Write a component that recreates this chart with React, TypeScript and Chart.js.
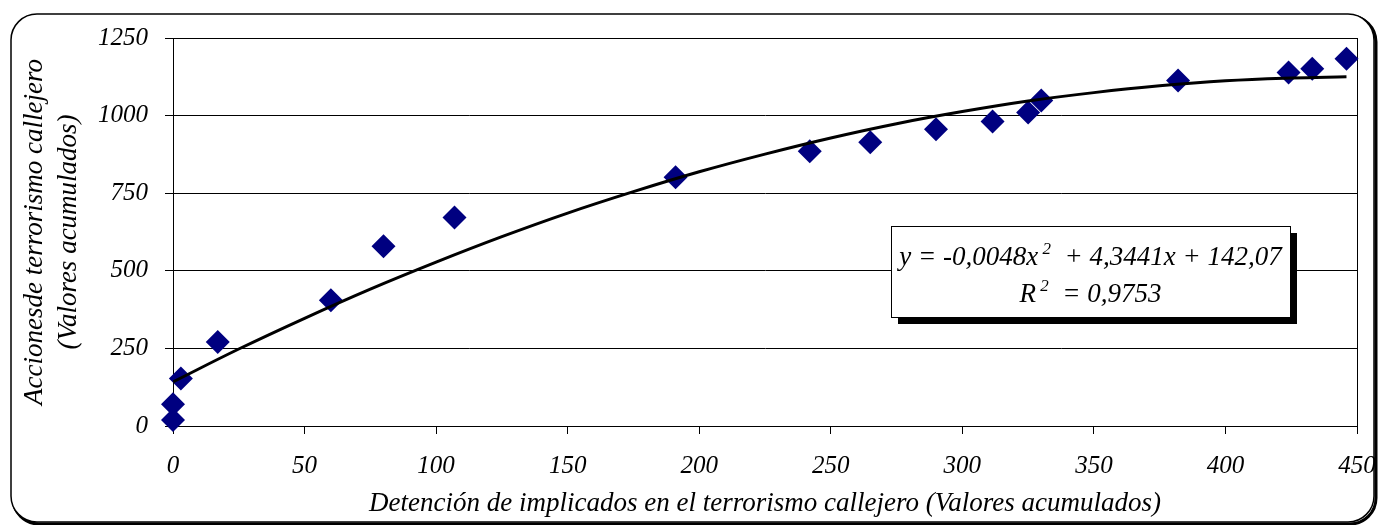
import React, { useEffect, useRef } from "react";
import { Chart, registerables } from "chart.js";

Chart.register(...registerables);

// Data
const detenciones = [0, 0, 3, 17, 60, 80, 107, 191, 242, 265, 290, 311.5, 325, 330, 382, 424, 433, 446];
const acciones = [19, 70, 153, 271, 405, 579, 672, 801, 885, 914, 956, 981, 1010, 1049, 1113, 1139, 1151, 1183];

// Polynomial trendline as drawn in the reference
const trendX = [0, 25, 50, 75, 100, 125, 150, 175, 200, 225, 250, 275, 300, 325, 350, 375, 400, 425, 446];
const trendY = [142, 248, 347, 441, 528, 610, 686, 755, 819, 876, 928, 974, 1013, 1047, 1074, 1096, 1112, 1121, 1125];

const xTicks = [0, 50, 100, 150, 200, 250, 300, 350, 400, 450];
const yTicks = [0, 250, 500, 750, 1000, 1250];

const xTitle = "Detención de implicados en el terrorismo callejero (Valores acumulados)";
const yTitleLines = ["Accionesde terrorismo callejero", "(Valores acumulados)"];

const eqLine1 = [
  { t: "y = -0,0048x", sup: false },
  { t: " 2", sup: true },
  { t: "  + 4,3441x + 142,07", sup: false },
];
const eqLine2 = [
  { t: "R", sup: false },
  { t: " 2", sup: true },
  { t: "  = 0,9753", sup: false },
];

const FONT = "'Liberation Serif', 'Times New Roman', serif";

function roundRect(ctx: CanvasRenderingContext2D, x: number, y: number, w: number, h: number, r: number) {
  ctx.beginPath();
  ctx.moveTo(x + r, y);
  ctx.lineTo(x + w - r, y);
  ctx.arcTo(x + w, y, x + w, y + r, r);
  ctx.lineTo(x + w, y + h - r);
  ctx.arcTo(x + w, y + h, x + w - r, y + h, r);
  ctx.lineTo(x + r, y + h);
  ctx.arcTo(x, y + h, x, y + h - r, r);
  ctx.lineTo(x, y + r);
  ctx.arcTo(x, y, x + r, y, r);
  ctx.closePath();
}

function drawRich(
  ctx: CanvasRenderingContext2D,
  segs: { t: string; sup: boolean }[],
  cx: number,
  baseline: number,
  size: number
) {
  const supSize = Math.round(size * 0.62);
  let total = 0;
  for (const s of segs) {
    ctx.font = `italic ${s.sup ? supSize : size}px ${FONT}`;
    total += ctx.measureText(s.t).width;
  }
  let x = cx - total / 2;
  ctx.textAlign = "left";
  ctx.textBaseline = "alphabetic";
  for (const s of segs) {
    ctx.font = `italic ${s.sup ? supSize : size}px ${FONT}`;
    ctx.fillText(s.t, x, baseline - (s.sup ? size * 0.42 : 0));
    x += ctx.measureText(s.t).width;
  }
}

const decorPlugin = {
  id: "decor",
  beforeDraw(chart: any) {
    const ctx: CanvasRenderingContext2D = chart.ctx;
    ctx.save();
    ctx.fillStyle = "#ffffff";
    ctx.fillRect(0, 0, chart.width, chart.height);
    ctx.strokeStyle = "#000";
    ctx.lineWidth = 3;
    roundRect(ctx, 13, 16, 1363, 508, 26);
    ctx.stroke();
    ctx.fillStyle = "#fff";
    roundRect(ctx, 11, 14, 1363, 508, 26);
    ctx.fill();
    ctx.lineWidth = 1.5;
    ctx.strokeStyle = "#000";
    ctx.stroke();
    ctx.restore();
  },
  afterDraw(chart: any) {
    const ctx: CanvasRenderingContext2D = chart.ctx;
    const a = chart.chartArea;
    ctx.save();

    // axis titles
    ctx.fillStyle = "#000";
    ctx.font = `italic 27px ${FONT}`;
    ctx.textAlign = "center";
    ctx.textBaseline = "alphabetic";
    ctx.fillText(xTitle, (a.left + a.right) / 2, 511);
    ctx.textBaseline = "middle";
    const cy = (a.top + a.bottom) / 2;
    ctx.save();
    ctx.translate(35, cy);
    ctx.rotate(-Math.PI / 2);
    ctx.fillText(yTitleLines[0], 0, 0);
    ctx.restore();
    ctx.save();
    ctx.translate(69, cy);
    ctx.rotate(-Math.PI / 2);
    ctx.fillText(yTitleLines[1], 0, 0);
    ctx.restore();

    // equation box
    const bx = 891, by = 226, bw = 399, bh = 91;
    ctx.fillStyle = "#000";
    ctx.fillRect(bx + 7, by + 7, bw, bh);
    ctx.fillStyle = "#fff";
    ctx.fillRect(bx, by, bw, bh);
    ctx.strokeStyle = "#000";
    ctx.lineWidth = 1;
    ctx.strokeRect(bx + 0.5, by + 0.5, bw, bh);
    ctx.fillStyle = "#000";
    drawRich(ctx, eqLine1, bx + bw / 2, 265, 27);
    drawRich(ctx, eqLine2, bx + bw / 2, 302, 27);
    ctx.restore();
  },
  beforeDatasetsDraw(chart: any) {
    const ctx: CanvasRenderingContext2D = chart.ctx;
    const a = chart.chartArea;
    ctx.save();
    ctx.strokeStyle = "#000";
    ctx.lineWidth = 1;
    ctx.strokeRect(Math.round(a.left) + 0.5, Math.round(a.top) + 0.5, Math.round(a.right - a.left), Math.round(a.bottom - a.top));
    ctx.restore();
  },
};

export default function App() {
  const ref = useRef<HTMLCanvasElement>(null);
  useEffect(() => {
    document.body.style.margin = "0";
    const canvas = ref.current!;
    const tickFont = { family: FONT, size: 25, style: "italic" as const };
    const chart = new Chart(canvas, {
      type: "scatter",
      data: {
        datasets: [
          {
            type: "line",
            label: "Tendencia",
            data: trendX.map((x, i) => ({ x, y: trendY[i] })),
            borderColor: "#000",
            borderWidth: 3,
            pointRadius: 0,
            tension: 0.4,
            fill: false,
            order: 0,
          } as any,
          {
            type: "scatter",
            label: "Acciones",
            data: detenciones.map((x, i) => ({ x, y: acciones[i] })),
            backgroundColor: "#000080",
            borderColor: "#000080",
            borderWidth: 0,
            pointStyle: "rectRot",
            pointRadius: 12,
            clip: false,
            order: 1,
          } as any,
        ],
      },
      options: {
        responsive: false,
        animation: false,
        layout: { padding: { left: 0, top: 38, right: 21, bottom: 0 } },
        plugins: {
          legend: { display: false },
          tooltip: { enabled: false },
        },
        scales: {
          x: {
            type: "linear",
            min: 0,
            max: 450,
            afterBuildTicks: (s: any) => {
              s.ticks = xTicks.map((v) => ({ value: v }));
            },
            afterFit: (s: any) => {
              s.height = 99;
              s.paddingLeft = 0;
              s.paddingRight = 0;
            },
            ticks: {
              font: tickFont,
              color: "#000",
              padding: 17,
              maxRotation: 0,
              autoSkip: false,
              callback: (v: any) => String(v),
            },
            grid: { drawOnChartArea: false, drawTicks: true, tickLength: 8, color: "#000" },
            border: { display: true, color: "#000", width: 1 },
          },
          y: {
            type: "linear",
            min: 0,
            max: 1250,
            afterBuildTicks: (s: any) => {
              s.ticks = yTicks.map((v) => ({ value: v }));
            },
            afterFit: (s: any) => {
              s.width = 173;
              s.paddingTop = 0;
              s.paddingBottom = 0;
            },
            ticks: { font: tickFont, color: "#000", padding: 17, callback: (v: any) => String(v) },
            grid: { drawOnChartArea: true, drawTicks: true, tickLength: 8, color: "#000", lineWidth: 1 },
            border: { display: true, color: "#000", width: 1 },
          },
        },
      },
      plugins: [decorPlugin],
    });
    return () => chart.destroy();
  }, []);
  return <canvas ref={ref} width={1378} height={525} style={{ display: "block" }} />;
}
